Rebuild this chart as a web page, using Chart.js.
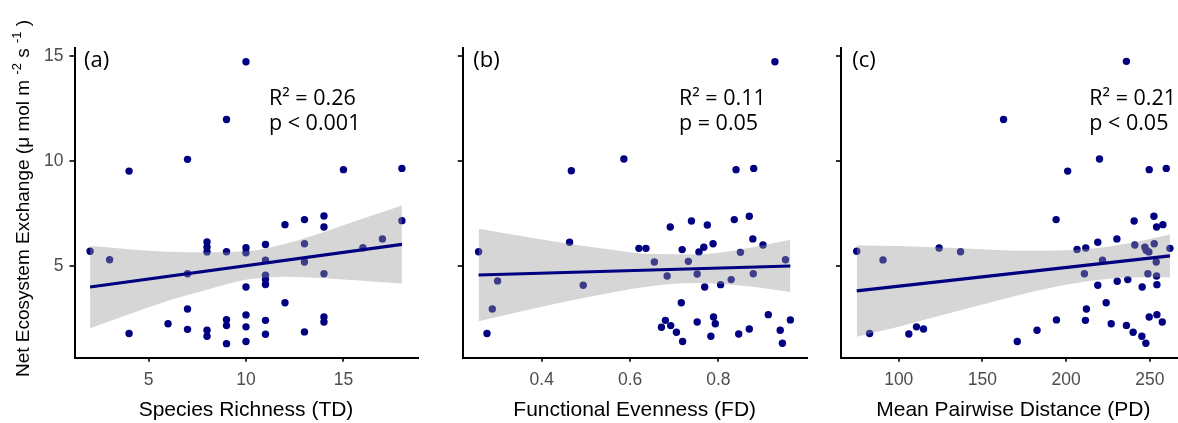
<!DOCTYPE html>
<html>
<head>
<meta charset="utf-8">
<script src="https://cdn.jsdelivr.net/npm/chart.js@4.4.1/dist/chart.umd.min.js"></script>
<style>
  html, body { margin: 0; padding: 0; background: #fff; overflow: hidden; }
  #wrap { position: relative; width: 1178px; height: 423px; overflow: hidden; }
  canvas { position: absolute; top: 0; }
</style>
</head>
<body>
<div id="wrap">
  <canvas id="td" width="440" height="423" style="left:0px"></canvas>
  <canvas id="fd" width="380" height="423" style="left:440px"></canvas>
  <canvas id="pd" width="380" height="423" style="left:820px"></canvas>
</div>
<script>
// shared y axis
const yTicks = [5, 10, 15];
const yTitle = ['Net Ecosystem Exchange (\u03bc mol m ', '-2', ' s ', '-1', ' )'];

// (a) species richness
const tdX = [2, 3, 4, 4, 6, 7, 7, 7, 7, 8, 8, 8, 8, 8, 9, 9, 9, 9, 9, 10, 10, 10, 10, 10, 10, 10,
  11, 11, 11, 11, 11, 11, 11, 12, 12, 13, 13, 13, 13, 14, 14, 14, 14, 14, 15, 16, 17, 18, 18];
const tdY = [5.70, 5.30, 9.52, 1.78, 2.25, 10.08, 4.63, 2.95, 1.98, 6.14, 5.90, 5.67, 1.94, 1.65,
  11.98, 5.68, 2.44, 2.16, 1.30, 14.73, 5.87, 5.63, 4.00, 2.67, 2.10, 1.40,
  6.02, 5.27, 4.56, 4.35, 4.12, 2.41, 1.75, 6.97, 3.25, 7.21, 6.06, 5.19, 1.86,
  7.38, 6.86, 4.63, 2.57, 2.33, 9.59, 5.87, 6.29, 9.65, 7.16];
const tdFitX = [2, 18];
const tdFitY = [4.0, 6.03];
const tdBandX = [2, 4, 6, 8, 10, 12, 14, 16, 18];
const tdBandHi = [5.95, 5.80, 5.68, 5.65, 5.70, 6.05, 6.62, 7.26, 7.88];
const tdBandLo = [2.03, 2.70, 3.34, 3.87, 4.34, 4.49, 4.42, 4.30, 4.16];
const tdTicks = [5, 10, 15];

// (b) functional evenness
const fdX = [0.257, 0.276, 0.288, 0.300, 0.463, 0.467, 0.494, 0.586, 0.620, 0.636, 0.655, 0.671,
  0.680, 0.684, 0.691, 0.692, 0.705, 0.716, 0.718, 0.719, 0.732, 0.739, 0.752, 0.752, 0.756,
  0.767, 0.769, 0.775, 0.783, 0.788, 0.789, 0.793, 0.805, 0.829, 0.836, 0.840, 0.846, 0.850,
  0.870, 0.870, 0.878, 0.879, 0.880, 0.901, 0.913, 0.928, 0.940, 0.945, 0.952, 0.963];
const fdY = [5.68, 1.78, 2.95, 4.29, 6.13, 9.54, 4.08, 10.10, 5.84, 5.84, 5.19, 2.08,
  2.41, 4.52, 6.86, 2.16, 1.84, 3.25, 5.78, 1.40, 5.22, 7.14, 2.33, 4.62, 5.67,
  5.89, 4.00, 6.95, 1.65, 6.06, 2.57, 2.25, 4.11, 4.35, 7.21, 9.59, 1.76, 5.65,
  7.37, 2.00, 6.29, 4.63, 9.65, 6.00, 2.68, 14.73, 1.94, 1.32, 5.30, 2.43];
const fdFitX = [0.257, 0.963];
const fdFitY = [4.57, 5.0];
const fdBandX = [0.257, 0.35, 0.45, 0.55, 0.65, 0.75, 0.85, 0.963];
const fdBandHi = [6.77, 6.44, 6.10, 5.80, 5.57, 5.55, 5.79, 6.25];
const fdBandLo = [2.37, 2.82, 3.28, 3.70, 4.05, 4.19, 4.07, 3.76];
const fdTicks = [0.4, 0.6, 0.8];

// (c) mean pairwise distance
const pdX = [74.9, 82.6, 90.6, 106.0, 110.6, 114.8, 124.1, 136.9, 162.6, 170.8, 182.6, 194.0,
  194.2, 200.9, 206.5, 210.9, 211.5, 211.7, 212.1, 218.9, 218.9, 219.9, 221.7, 223.9, 226.9,
  230.3, 230.5, 236.0, 236.0, 236.8, 240.0, 240.6, 241.0, 245.2, 245.4, 247.0, 247.6, 247.8,
  248.8, 249.4, 249.6, 249.6, 252.4, 252.6, 253.8, 254.0, 254.0, 254.2, 254.2, 257.4, 257.8,
  259.8, 262.0];
const pdY = [5.70, 1.78, 5.29, 1.76, 2.10, 2.00, 5.86, 5.68, 11.98, 1.40, 1.94, 7.21,
  2.43, 9.52, 5.79, 4.63, 2.41, 5.86, 2.95, 6.13, 4.08, 10.10, 5.27, 3.25, 2.25,
  6.29, 4.27, 14.75, 2.17, 4.35, 1.84, 7.14, 6.00, 1.65, 4.00, 5.90, 1.32, 5.75,
  4.63, 5.67, 9.59, 2.57, 7.37, 6.06, 5.19, 4.52, 6.86, 4.11, 2.68, 2.33, 6.97,
  9.65, 5.84];
const pdFitX = [74.9, 262];
const pdFitY = [3.81, 5.48];
const pdBandX = [74.9, 100, 125, 150, 175, 200, 225, 250, 262];
const pdBandHi = [5.99, 5.95, 5.88, 5.80, 5.72, 5.75, 5.92, 6.28, 6.50];
const pdBandLo = [1.63, 2.11, 2.64, 3.16, 3.68, 4.11, 4.38, 4.46, 4.46];
const pdTicks = [100, 150, 200, 250];

const NAVY = '#000080';
const SANS = '"Liberation Sans", Arial, sans-serif';
const NOTE = '"Open Sans", sans-serif';

const pts = (xs, ys) => xs.map((x, i) => ({ x, y: ys[i] }));

// panel tag + R2 / p text
const notes = {
  id: 'notes',
  afterDraw(chart, args, o) {
    const ctx = chart.ctx;
    ctx.save();
    ctx.fillStyle = '#000';
    ctx.textAlign = 'left';
    ctx.textBaseline = 'alphabetic';
    ctx.font = '22px ' + NOTE;
    ctx.fillText(o.tag, o.tagX, 67);
    ctx.font = '21.5px ' + NOTE;
    ctx.fillText(o.r2, o.statX, 105);
    ctx.fillText(o.p, o.statX, 130);
    ctx.restore();
  },
};

// rotated y title with superscripts, only on the first panel
const yLabel = {
  id: 'yLabel',
  afterDraw(chart) {
    const ctx = chart.ctx;
    ctx.save();
    ctx.translate(29, 377);
    ctx.rotate(-Math.PI / 2);
    ctx.fillStyle = '#000';
    ctx.textBaseline = 'alphabetic';
    let x = 0;
    yTitle.forEach((t, i) => {
      const sup = i % 2 === 1;
      ctx.font = (sup ? '13px ' : '19px ') + SANS;
      ctx.fillText(t, x, sup ? -8 : 0);
      x += ctx.measureText(t).width;
    });
    ctx.restore();
  },
};

function makePanel(id, p) {
  const ctx = document.getElementById(id).getContext('2d');
  return new Chart(ctx, {
    type: 'line',
    data: {
      datasets: [
        { // fitted line
          data: pts(p.fitX, p.fitY),
          borderColor: NAVY,
          borderWidth: 3.2,
          pointRadius: 0,
          fill: false,
        },
        { // upper CI, filled down to lower CI
          data: pts(p.bandX, p.bandHi),
          borderWidth: 0,
          borderColor: 'rgba(0,0,0,0)',
          backgroundColor: 'rgba(153,153,153,0.4)',
          pointRadius: 0,
          cubicInterpolationMode: 'monotone',
          fill: '+1',
        },
        {
          data: pts(p.bandX, p.bandLo),
          borderWidth: 0,
          borderColor: 'rgba(0,0,0,0)',
          pointRadius: 0,
          cubicInterpolationMode: 'monotone',
          fill: false,
        },
        { // observations
          data: pts(p.x, p.y),
          showLine: false,
          pointRadius: 3.7,
          pointBackgroundColor: NAVY,
          pointBorderWidth: 0,
          fill: false,
        },
      ],
    },
    options: {
      responsive: false,
      animation: false,
      events: [],
      layout: { padding: { top: 47.7, left: 0, right: p.padRight, bottom: 0 } },
      plugins: {
        legend: { display: false },
        tooltip: { enabled: false },
        notes: { tag: p.tag, tagX: p.tagX, r2: p.r2, p: p.p, statX: p.statX },
      },
      scales: {
        x: {
          type: 'linear',
          min: p.xMin,
          max: p.xMax,
          afterBuildTicks: (s) => { s.ticks = p.xTicks.map((v) => ({ value: v })); },
          afterFit: (s) => { s.height = 65.3; },
          ticks: { color: '#4D4D4D', font: { family: SANS, size: 17.5 }, padding: 8, maxRotation: 0 },
          grid: { drawOnChartArea: false, drawTicks: true, tickLength: 4, color: '#333', lineWidth: 2 },
          border: { display: true, color: '#000', width: 2 },
          title: {
            display: true,
            text: p.xTitle,
            color: '#000',
            font: { family: SANS, size: 21 },
            padding: { top: 0, bottom: 0 },
          },
        },
        y: {
          type: 'linear',
          min: 0.63,
          max: 15.4,
          afterBuildTicks: (s) => { s.ticks = yTicks.map((v) => ({ value: v })); },
          afterFit: (s) => { s.width = p.chartLeft; },
          ticks: {
            display: p.yLabels,
            color: '#4D4D4D',
            font: { family: SANS, size: 17.5 },
            padding: 6,
          },
          grid: { drawOnChartArea: false, drawTicks: true, tickLength: 5, color: '#333', lineWidth: 2 },
          border: { display: true, color: '#000', width: 2 },
        },
      },
    },
    plugins: p.yLabels ? [notes, yLabel] : [notes],
  });
}

makePanel('td', {
  x: tdX, y: tdY, fitX: tdFitX, fitY: tdFitY,
  bandX: tdBandX, bandHi: tdBandHi, bandLo: tdBandLo,
  xMin: 1.2, xMax: 18.8, xTicks: tdTicks, xTitle: 'Species Richness (TD)',
  chartLeft: 74.5, padRight: 440 - 417.5, yLabels: true,
  tag: '(a)', tagX: 84, r2: 'R\u00b2 = 0.26', p: 'p < 0.001', statX: 269,
});

makePanel('fd', {
  x: fdX, y: fdY, fitX: fdFitX, fitY: fdFitY,
  bandX: fdBandX, bandHi: fdBandHi, bandLo: fdBandLo,
  xMin: 0.221, xMax: 1.0, xTicks: fdTicks, xTitle: 'Functional Evenness (FD)',
  chartLeft: 22.7, padRight: 380 - 366.7, yLabels: false,
  tag: '(b)', tagX: 33.3, r2: 'R\u00b2 = 0.11', p: 'p = 0.05', statX: 239,
});

makePanel('pd', {
  x: pdX, y: pdY, fitX: pdFitX, fitY: pdFitY,
  bandX: pdBandX, bandHi: pdBandHi, bandLo: pdBandLo,
  xMin: 65.5, xMax: 271.4, xTicks: pdTicks, xTitle: 'Mean Pairwise Distance (PD)',
  chartLeft: 21, padRight: 380 - 365.7, yLabels: false,
  tag: '(c)', tagX: 32.3, r2: 'R\u00b2 = 0.21', p: 'p < 0.05', statX: 269.3,
});
</script>
</body>
</html>
